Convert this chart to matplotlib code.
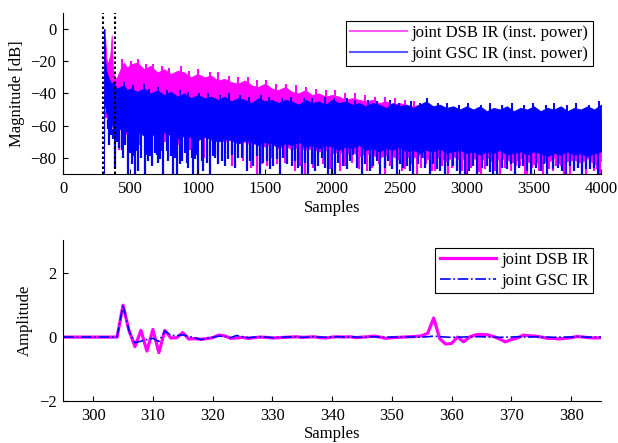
import matplotlib
matplotlib.use("Agg")
import matplotlib.pyplot as plt
from matplotlib.lines import Line2D
import numpy as np

# ---------------- top panel: instantaneous power envelopes (dB) ----------------
env_x = [303, 305, 308, 312, 320, 330, 340, 350, 360, 370, 385, 400, 425, 450, 475, 500,
         550, 600, 650, 700, 750, 800, 850, 900, 950, 1000,
         1050, 1100, 1150, 1200, 1250, 1300, 1350, 1400, 1450, 1500,
         1550, 1600, 1650, 1700, 1750, 1800, 1850, 1900, 1950, 2000,
         2050, 2100, 2150, 2200, 2250, 2300, 2350, 2400, 2450, 2500,
         2550, 2600, 2650, 2700, 2750, 2800, 2850, 2900, 2950, 3000,
         3050, 3100, 3150, 3200, 3250, 3300, 3350, 3400, 3450, 3500,
         3550, 3600, 3650, 3700, 3750, 3800, 3850, 3900, 3950, 4000]

dsb_upper = [-40, 0, -15, -6, -18, -22, -19, -16, -4, -27, -31, -30, -25, -21, -24, -22,
             -21, -25, -23, -27, -25, -28, -26, -27, -30, -28,
             -30, -29, -32, -31, -33, -34, -32, -35, -36, -34,
             -37, -38, -36, -39, -40, -38, -41, -40, -42, -41,
             -42, -44, -43, -44, -45, -44, -46, -45, -47, -46,
             -47, -48, -47, -49, -48, -50, -49, -51, -50, -52,
             -51, -53, -52, -54, -53, -54, -55, -53, -55, -54,
             -56, -55, -54, -56, -55, -57, -55, -56, -55, -54]

dsb_lower = [-90, -40, -45, -48, -52, -55, -56, -57, -55, -58, -60, -58, -60, -59, -61, -60,
             -62, -64, -63, -65, -63, -66, -65, -67, -66, -68,
             -66, -69, -68, -70, -68, -71, -70, -72, -70, -73,
             -71, -74, -72, -75, -73, -75, -74, -76, -75, -77,
             -76, -78, -76, -79, -77, -78, -80, -78, -79, -81,
             -79, -80, -78, -81, -79, -80, -82, -79, -81, -80,
             -80, -82, -79, -83, -80, -81, -83, -80, -82, -84,
             -81, -83, -80, -84, -82, -81, -83, -80, -84, -82]

gsc_upper = [-35, 0, -12, -20, -26, -29, -31, -33, -34, -33, -35, -37, -36, -35, -38, -37,
             -39, -37, -40, -38, -41, -39, -42, -40, -43, -41,
             -43, -42, -44, -42, -45, -43, -44, -46, -43, -45,
             -44, -46, -44, -45, -47, -44, -46, -45, -47, -44,
             -46, -45, -47, -46, -48, -46, -47, -49, -46, -48,
             -47, -49, -47, -45, -48, -47, -49, -48, -50, -48,
             -50, -48, -51, -49, -50, -48, -51, -49, -50, -48,
             -51, -49, -50, -48, -51, -49, -50, -48, -50, -47]

gsc_lower = [-90, -45, -46, -48, -52, -55, -58, -60, -59, -62, -61, -63, -62, -64, -63, -65,
             -64, -66, -65, -67, -64, -66, -68, -66, -67, -69,
             -67, -68, -70, -68, -69, -71, -69, -70, -72, -70,
             -71, -73, -71, -72, -70, -73, -72, -74, -72, -73,
             -75, -73, -74, -72, -75, -74, -76, -74, -75, -73,
             -76, -75, -77, -75, -76, -74, -77, -76, -75, -77,
             -76, -78, -76, -77, -75, -78, -77, -76, -78, -76,
             -77, -79, -77, -78, -76, -78, -77, -79, -77, -76]

# upward spikes of the instantaneous power (sample, dB)
gsc_peak_x = [455, 515, 598, 641, 706, 772, 866, 925, 1013, 1077,
              1166, 1236, 1318, 1385, 1474, 1533, 1627, 1694, 1788, 1852,
              1946, 2011, 2107, 2172, 2266, 2333, 2428, 2497, 2585, 2652,
              2703, 2787, 2854, 2946, 3013, 3108, 3171, 3267, 3335, 3428,
              3493, 3588, 3651, 3747, 3813, 3908, 3985]
gsc_peak_y = [-33, -35, -34, -37, -36, -38, -38, -39, -40, -40,
              -41, -40, -41, -42, -41, -42, -43, -42, -43, -43,
              -42, -43, -43, -44, -44, -45, -44, -46, -45, -46,
              -43, -46, -46, -47, -46, -47, -46, -47, -46, -47,
              -46, -47, -46, -47, -46, -47, -45]

dsb_peak_x = [440, 505, 555, 612, 668, 735, 790, 872, 935, 1005,
              1088, 1150, 1232, 1296, 1371, 1442, 1510, 1585, 1655, 1732,
              1808, 1877, 1951, 2024, 2097, 2170, 2246, 2318, 2391, 2466,
              2540, 2612]
dsb_peak_y = [-19, -20, -19, -22, -22, -23, -24, -23, -26, -25,
              -27, -27, -29, -30, -30, -32, -32, -34, -34, -35,
              -36, -37, -38, -38, -40, -40, -41, -42, -42, -43,
              -44, -45]

# deep dips of the instantaneous power (sample, dB)
gsc_dip_x = [335, 342, 358, 372, 384, 398, 412, 434, 446, 461,
             483, 495, 508, 521, 533, 546, 558, 581, 607, 620,
             632, 645, 657, 681, 694, 707, 719, 731, 744, 769,
             782, 805, 818, 831, 843, 868, 880, 905, 918, 930,
             955, 967, 980, 992, 1005, 1030, 1042, 1067, 1092, 1116,
             1129, 1154, 1178, 1203, 1228, 1253, 1278, 1302, 1327, 1364,
             1389, 1414, 1439, 1464, 1488, 1513, 1538, 1563, 1587, 1612,
             1637, 1662, 1699, 1724, 1749, 1774, 1798, 1823, 1848, 1873,
             1898, 1922, 1947, 1972, 1997, 2021, 2046, 2083, 2108, 2133,
             2158, 2183, 2220, 2245, 2282, 2307, 2331, 2356, 2393, 2418,
             2443, 2480, 2505, 2530, 2554, 2579, 2604, 2641, 2666, 2691,
             2728, 2753, 2777, 2802, 2840, 2865, 2902, 2927, 2951, 2988,
             3020, 3045, 3080, 3115, 3150, 3175, 3200, 3230, 3265, 3300,
             3330, 3360, 3390, 3420, 3450, 3480, 3515, 3550, 3575, 3600,
             3640, 3680, 3710, 3740, 3770, 3800, 3830, 3860, 3890, 3920,
             3950, 3980]
gsc_dip_y = [-62, -72, -66, -68, -87, -70, -74, -75, -80, -72,
             -90, -77, -84, -79, -90, -76, -88, -80, -90, -78,
             -82, -79, -85, -77, -78, -83, -81, -76, -90, -76,
             -82, -79, -90, -80, -90, -84, -82, -77, -83, -86,
             -80, -90, -81, -78, -90, -82, -88, -83, -90, -79,
             -80, -84, -82, -85, -81, -78, -86, -80, -80, -88,
             -82, -85, -79, -90, -83, -82, -87, -85, -81, -90,
             -80, -84, -85, -82, -86, -90, -83, -90, -84, -88,
             -85, -80, -86, -90, -90, -90, -83, -85, -87, -82,
             -78, -86, -90, -84, -88, -85, -82, -90, -86, -82,
             -87, -90, -84, -86, -85, -88, -90, -84, -80, -86,
             -90, -84, -87, -88, -90, -85, -85, -88, -90, -90,
             -88, -85, -90, -86, -85, -89, -90, -90, -86, -87,
             -84, -90, -86, -85, -88, -90, -86, -88, -84, -90,
             -87, -86, -88, -90, -85, -88, -86, -90, -87, -87,
             -86, -90]

dsb_dip_x = [318, 333, 352, 395, 415, 470, 560, 620, 690, 760,
             850, 940, 1050, 1150, 1253, 1340, 1400, 1439, 1475, 1513,
             1550, 1590, 1650, 1724, 1760, 1798, 1860, 1935, 1985, 2058,
             2095, 2150, 2200, 2260, 2300, 2350, 2393, 2430, 2480, 2520,
             2540, 2590, 2629, 2660, 2700, 2740, 2765, 2815, 2864, 2890,
             2926, 2965, 3000, 3030, 3050, 3095, 3110, 3140, 3180, 3215,
             3250, 3285, 3330, 3370, 3400, 3435, 3450, 3490, 3520, 3540,
             3570, 3610, 3640, 3665, 3700, 3725, 3770, 3800, 3830, 3860,
             3890, 3915, 3950, 3970, 3990]
dsb_dip_y = [-55, -60, -62, -70, -75, -66, -72, -68, -74, -70,
             -72, -75, -80, -78, -85, -82, -86, -90, -84, -85,
             -80, -84, -83, -88, -85, -90, -86, -84, -87, -88,
             -85, -83, -87, -88, -86, -84, -90, -85, -85, -88,
             -87, -84, -90, -86, -84, -88, -88, -85, -90, -86,
             -85, -88, -90, -86, -85, -89, -90, -87, -82, -88,
             -90, -86, -88, -85, -85, -90, -90, -86, -84, -88,
             -90, -87, -88, -85, -85, -90, -90, -86, -86, -88,
             -90, -85, -88, -87, -90]

zoom_marks = [295, 385]

# ---------------- bottom panel: impulse responses ----------------
ir_samples = list(range(295, 386))
dsb_ir = [0, 0, 0, 0, 0, 0, 0, 0, 0, 0,
          1.0, 0.2, -0.3, 0.21, -0.44, 0.24, -0.49, 0.21, -0.03, -0.02,
          0.14, -0.06, -0.05, -0.07, -0.05, -0.02, 0.06, 0.04, -0.04, -0.03,
          -0.01, -0.04, -0.02, 0.0, -0.01, -0.03, -0.02, -0.01, 0.0, 0.01,
          -0.01, 0.0, 0.01, -0.02, -0.03, 0.0, 0.01, 0.0, 0.01, -0.02,
          0.0, 0.01, 0.03, 0.0, -0.04, -0.02, -0.01, 0.0, 0.01, 0.02,
          0.04, 0.12, 0.6, -0.05, -0.22, -0.2, 0.0, -0.15, 0.0, 0.07,
          0.08, 0.07, 0.02, -0.06, -0.15, -0.08, -0.03, 0.06, 0.04, 0.03,
          0.0, -0.04, -0.04, -0.06, -0.04, -0.02, 0.02, 0.0, -0.02, -0.03,
          -0.02]
gsc_ir = [0, 0, 0, 0, 0, 0, 0, 0, 0, 0,
          1.0, 0.2, -0.18, -0.13, -0.08, -0.04, -0.14, 0.19, 0.06, 0.04,
          0.07, 0.02, -0.02, -0.08, -0.04, -0.01, 0.03, 0.02, -0.02, 0.05,
          0.01, -0.02, 0.0, 0.01, 0.0, -0.02, -0.01, 0.0, 0.01, 0.0,
          -0.01, 0.0, 0.01, 0.0, -0.01, 0.0, 0.01, 0.0, 0.01, 0.0,
          -0.01, 0.0, 0.01, 0.0, -0.01, 0.0, 0.0, 0.01, 0.0, 0.0,
          0.0, 0.01, 0.03, 0.01, 0.0, -0.01, 0.0, 0.0, 0.01, 0.01,
          0.01, 0.0, 0.0, -0.01, 0.0, 0.0, 0.01, 0.0, 0.0, 0.01,
          0.0, 0.0, -0.01, 0.0, 0.0, 0.0, 0.01, 0.0, 0.0, 0.0,
          0.0]

top_xticks = [0, 500, 1000, 1500, 2000, 2500, 3000, 3500, 4000]
top_yticks = [0, -20, -40, -60, -80]
bot_xticks = [300, 310, 320, 330, 340, 350, 360, 370, 380]
bot_yticks = [-2, 0, 2]

MAG = "#FF00FF"
BLU = "#0000FF"

plt.rcParams["font.family"] = ["Liberation Serif", "DejaVu Serif"]
plt.rcParams["font.size"] = 12
plt.rcParams["axes.linewidth"] = 0.8

fig = plt.figure(figsize=(6.18, 4.43), dpi=100)
ax1 = fig.add_axes([0.1024, 0.6072, 0.8701, 0.3641])
ax2 = fig.add_axes([0.1024, 0.0955, 0.8701, 0.3627])

for ax in (ax1, ax2):
    ax.spines["top"].set_visible(False)
    ax.spines["right"].set_visible(False)
    ax.tick_params(direction="in", length=3.5, width=0.8, pad=5)


def draw_power(ax, upper, lower, peak_x, peak_y, dip_x, dip_y, color, z):
    ax.fill_between(env_x, lower, upper, color=color, linewidth=0.6,
                    edgecolor=color, zorder=z)
    ax.vlines(peak_x, np.interp(peak_x, env_x, lower), peak_y, color=color,
              linewidth=1.4, zorder=z)
    ax.vlines(dip_x, dip_y, np.interp(dip_x, env_x, lower), color=color,
              linewidth=1.6, zorder=z)


draw_power(ax1, dsb_upper, dsb_lower, dsb_peak_x, dsb_peak_y, dsb_dip_x, dsb_dip_y, MAG, 1.0)
draw_power(ax1, gsc_upper, gsc_lower, gsc_peak_x, gsc_peak_y, gsc_dip_x, gsc_dip_y, BLU, 1.5)
for xm in zoom_marks:
    ax1.axvline(xm, color="black", linestyle=(0, (1.2, 1.2)), linewidth=1.5, zorder=3)

ax1.set_xlim(0, 4000)
ax1.set_ylim(-90, 10)
ax1.set_xticks(top_xticks)
ax1.set_yticks(top_yticks)
ax1.set_xlabel("Samples", labelpad=2)
ax1.set_ylabel("Magnitude [dB]")
h1 = [Line2D([], [], color=MAG, lw=1.5, alpha=0.65),
      Line2D([], [], color=BLU, lw=1.5, alpha=0.65)]
ax1.legend(h1, ["joint DSB IR (inst. power)", "joint GSC IR (inst. power)"],
           loc="upper right", bbox_to_anchor=(0.985, 0.95), borderaxespad=0,
           fancybox=False, framealpha=1, edgecolor="black", handlelength=3.4,
           handletextpad=0.3, labelspacing=0.3, borderpad=0.25)

# bottom panel
ax2.plot(ir_samples, dsb_ir, color=MAG, lw=2.3, label="joint DSB IR")
ax2.plot(ir_samples, gsc_ir, color=BLU, lw=1.2, linestyle="-.", label="joint GSC IR")
ax2.set_xlim(295, 385)
ax2.set_ylim(-2, 3.05)
ax2.set_xticks(bot_xticks)
ax2.set_yticks(bot_yticks)
ax2.set_xlabel("Samples", labelpad=2)
ax2.set_ylabel("Amplitude")
ax2.legend(loc="upper right", bbox_to_anchor=(0.985, 0.952), borderaxespad=0,
           fancybox=False, framealpha=1, edgecolor="black", handlelength=3.4,
           handletextpad=0.3, labelspacing=0.3, borderpad=0.25)

for ax in (ax1, ax2):
    ax.get_legend().get_frame().set_linewidth(0.8)

fig.savefig("out.png", dpi=100)
